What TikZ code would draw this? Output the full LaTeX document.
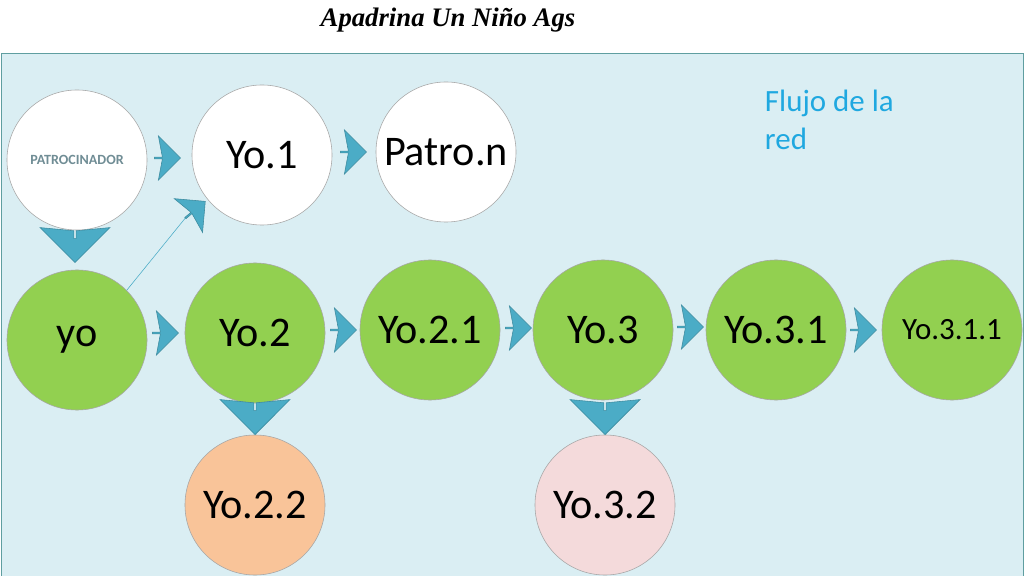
\documentclass[tikz,border=0pt]{standalone}
\usepackage{fontspec}
\setmainfont{Carlito}
\newfontfamily\titlefont{Liberation Serif}
\usetikzlibrary{shapes.arrows}
\definecolor{panelblue}{HTML}{DAEEF3}
\definecolor{framegray}{HTML}{5F9EA0}
\definecolor{leafgreen}{HTML}{92D050}
\definecolor{peach}{HTML}{F9C499}
\definecolor{rosa}{HTML}{F4DADB}
\definecolor{arrowblue}{HTML}{4BACC6}
\definecolor{textblue}{HTML}{1FA8E0}
\tikzset{
  persona/.style={circle,draw=gray!70,minimum size=3.5cm,inner sep=0pt,font=\fontsize{30}{36}\selectfont},
  paso/.style={single arrow,fill=arrowblue,draw=arrowblue!80!black,minimum height=0.65cm,minimum width=1.1cm,single arrow head extend=0.18cm,single arrow head indent=0.1cm,inner sep=0pt},
  bajada/.style={paso,shape border rotate=270,minimum height=0.6cm,minimum width=1.75cm,single arrow head extend=0.2cm,single arrow head indent=0.08cm}
}
\begin{document}
\begin{tikzpicture}[x=0.025cm,y=-0.025cm]
\useasboundingbox (0,0) rectangle (1024,576);
\fill[white] (0,0) rectangle (1024,576);
\draw[framegray,fill=panelblue] (1,53) rectangle (1023,580);
\node[font=\titlefont\itshape\bfseries\fontsize{19}{24}\selectfont] (titulo) at (448,20) {Apadrina Un Niño Ags};
\node[anchor=north west,align=left,text=textblue,font=\fontsize{22}{27}\selectfont] (flujo) at (760,85) {Flujo de la\\red};

\node[persona,fill=white,font=\bfseries\fontsize{10}{12}\selectfont,text=gray!70!arrowblue] (patro) at (77,160) {PATROCINADOR};
\node[persona,fill=white] (y1) at (262,155) {Yo.1};
\node[persona,fill=white] (pn) at (446,152) {Patro.n};

\node[persona,fill=leafgreen] (yo) at (77,340) {yo};
\node[persona,fill=leafgreen] (y2) at (255,333) {Yo.2};
\node[persona,fill=leafgreen] (y21) at (430,330) {Yo.2.1};
\node[persona,fill=leafgreen] (y3) at (603,330) {Yo.3};
\node[persona,fill=leafgreen] (y31) at (776,330) {Yo.3.1};
\node[persona,fill=leafgreen,font=\fontsize{22}{26}\selectfont] (y311) at (952,330) {Yo.3.1.1};
\node[persona,fill=peach] (y22) at (255,505) {Yo.2.2};
\node[persona,fill=rosa] (y32) at (605,505) {Yo.3.2};

\node[paso] (a1) at (167,158) {};
\node[paso] (a2) at (353,152) {};
\node[paso] (a3) at (165,333) {};
\node[paso] (a4) at (343,330) {};
\node[paso] (a5) at (518,328) {};
\node[paso] (a6) at (690,327) {};
\node[paso] (a7) at (863,330) {};
\node[bajada] (b1) at (75,250) {};
\node[bajada] (b2) at (255,422) {};
\node[bajada] (b3) at (605,422) {};
\node[paso,rotate=40] (d1) at (195,210) {};
\draw[arrowblue] (yo.north east) -- (d1.west);
\end{tikzpicture}
\end{document}
